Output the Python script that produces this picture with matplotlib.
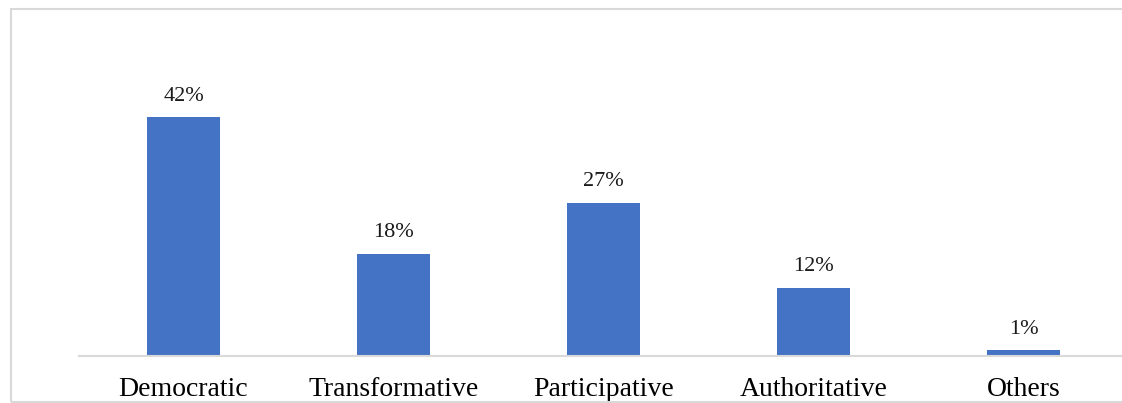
import matplotlib.pyplot as plt
from matplotlib.patches import Rectangle

categories = ["Democratic", "Transformative", "Participative", "Authoritative", "Others"]
values = [0.42, 0.18, 0.27, 0.12, 0.01]
labels = ["42%", "18%", "27%", "12%", "1%"]

plt.rcParams['font.family'] = ['Liberation Serif', 'DejaVu Serif']

W, H = 1122, 403
fig = plt.figure(figsize=(W / 100, H / 100), dpi=100)

# frame around the chart area (right side cut off)
fig.patches.append(Rectangle((10.5 / W, 1 - 401.5 / H), 1.2, (401.5 - 9) / H,
                             transform=fig.transFigure, fill=False,
                             edgecolor="#d9d9d9", lw=1.5, zorder=0))

# axes placed in pixels: baseline at y=356, category pitch 210 px
left, right = 78.5, 1128.5
bottom, top = 356, 356 - 0.5 * 568
ax = fig.add_axes([left / W, 1 - bottom / H, (right - left) / W, (bottom - top) / H])

x = range(len(categories))
ax.bar(x, values, width=0.348, color="#4472C4", zorder=2)
ax.set_xlim(-0.5, len(categories) - 0.5)
ax.set_ylim(0, 0.5)

for xi, v, lab in zip(x, values, labels):
    ax.annotate(lab, (xi, v), xytext=(0, 12), textcoords="offset points",
                ha="center", va="baseline", fontsize=16, color="#1a1a1a")

ax.set_xticks(list(x))
ax.set_xticklabels(categories, fontsize=20, color="#000000")
ax.tick_params(axis="x", length=0, pad=15)
ax.set_yticks([])
for s in ["top", "left", "right"]:
    ax.spines[s].set_visible(False)
ax.spines["bottom"].set_color("#d9d9d9")
ax.spines["bottom"].set_linewidth(1.5)
ax.spines["bottom"].set_clip_on(False)

fig.savefig("out.png", dpi=100)
